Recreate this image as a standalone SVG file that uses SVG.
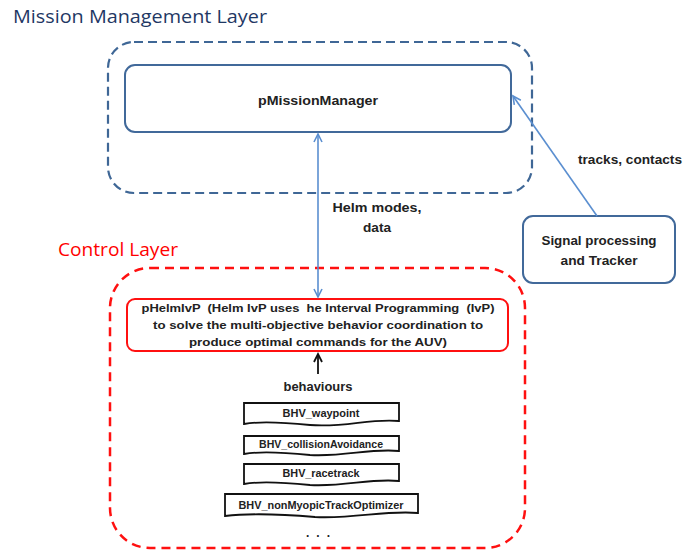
<svg xmlns="http://www.w3.org/2000/svg" width="696" height="550" viewBox="0 0 696 550">
<defs>
<style>
.t{font-family:"Liberation Sans",Arial,sans-serif;font-weight:bold;fill:#222;text-anchor:middle}
.title{font-family:"Open Sans","Liberation Sans",sans-serif;font-size:19px}
.bhv{fill:#fff;stroke:#111;stroke-width:1.8}
.bt{font-size:10px}
.conn{stroke:#5B8FD0;stroke-width:1.6;fill:none}
</style>
<marker id="ab" markerWidth="12" markerHeight="12" refX="9" refY="5" orient="auto-start-reverse" markerUnits="userSpaceOnUse">
<path d="M1,1 L9,5 L1,9" fill="none" stroke="#5B8FD0" stroke-width="1.6"/>
</marker>
<marker id="ak" markerWidth="12" markerHeight="12" refX="9" refY="5" orient="auto" markerUnits="userSpaceOnUse">
<path d="M1,1 L9,5 L1,9" fill="none" stroke="#111" stroke-width="1.8"/>
</marker>
</defs>
<rect width="696" height="550" fill="#fff"/>

<g id="mission-layer">
<text x="13" y="23" class="title" fill="#1F3864" textLength="254" lengthAdjust="spacingAndGlyphs">Mission Management Layer</text>
<rect x="108" y="42" width="424" height="151" rx="26" fill="none" stroke="#3F6796" stroke-width="2.2" stroke-dasharray="9,5"/>
</g>

<g id="pMissionManager">
<rect x="125" y="65" width="386" height="67" rx="10" fill="#fff" stroke="#41699A" stroke-width="2"/>
<text x="318" y="105" class="t" font-size="13.5" textLength="120" lengthAdjust="spacingAndGlyphs">pMissionManager</text>
</g>

<g id="control-layer">
<text x="58" y="256" class="title" fill="#FF0000" textLength="120" lengthAdjust="spacingAndGlyphs">Control Layer</text>
<rect x="110" y="268" width="415" height="280" rx="40" fill="none" stroke="#FF1010" stroke-width="2.5" stroke-dasharray="9,6"/>
</g>

<g id="signal-processing">
<rect x="523" y="216" width="152" height="67" rx="10" fill="#fff" stroke="#41699A" stroke-width="2"/>
<text x="599" y="245" class="t" font-size="12.5" textLength="115" lengthAdjust="spacingAndGlyphs">Signal processing</text>
<text x="599" y="265" class="t" font-size="12.5" textLength="77" lengthAdjust="spacingAndGlyphs">and Tracker</text>
</g>

<g id="pHelmIvP">
<rect x="127" y="299" width="381" height="52" rx="8" fill="#fff" stroke="#FF1010" stroke-width="2"/>
<text x="318" y="312" class="t" font-size="11.5" style="white-space:pre" textLength="353" lengthAdjust="spacingAndGlyphs">pHelmIvP  (Helm IvP uses  he Interval Programming  (IvP)</text>
<text x="318" y="329" class="t" font-size="11.5" textLength="330" lengthAdjust="spacingAndGlyphs">to solve the multi-objective behavior coordination to</text>
<text x="318" y="346" class="t" font-size="11.5" textLength="258" lengthAdjust="spacingAndGlyphs">produce optimal commands for the AUV)</text>
</g>

<g id="behaviours-label">
<text x="318" y="391" class="t" font-size="12" textLength="69" lengthAdjust="spacingAndGlyphs">behaviours</text>
</g>

<g id="bhv-waypoint">
<path class="bhv" d="M244,403 H399 V421 C370,418 345,428 310,425 C280,422 260,421 244,424 Z"/>
<text x="321" y="417" class="t bt" textLength="77" lengthAdjust="spacingAndGlyphs">BHV_waypoint</text>
</g>
<g id="bhv-collisionAvoidance">
<path class="bhv" d="M244,436 H399 V451 C370,448 345,457 310,455 C280,452 260,451 244,454 Z"/>
<text x="321" y="448" class="t bt" textLength="124" lengthAdjust="spacingAndGlyphs">BHV_collisionAvoidance</text>
</g>
<g id="bhv-racetrack">
<path class="bhv" d="M244,464 H399 V481 C370,478 345,487 310,485 C280,482 260,481 244,484 Z"/>
<text x="321" y="477" class="t bt" textLength="77" lengthAdjust="spacingAndGlyphs">BHV_racetrack</text>
</g>
<g id="bhv-nonMyopicTrackOptimizer">
<path class="bhv" d="M225,494 H418 V513 C385,510 355,519 315,517 C280,514 250,513 225,516 Z"/>
<text x="321" y="509" class="t bt" textLength="165" lengthAdjust="spacingAndGlyphs">BHV_nonMyopicTrackOptimizer</text>
</g>
<g id="ellipsis">
<text x="318" y="537" class="t" font-size="12" style="white-space:pre" textLength="24">. . .</text>
</g>

<g id="connectors">
<line class="conn" x1="318" y1="134" x2="318" y2="297" marker-start="url(#ab)" marker-end="url(#ab)"/>
<text x="377" y="212" class="t" font-size="12.5" textLength="89" lengthAdjust="spacingAndGlyphs">Helm modes,</text>
<text x="377" y="232" class="t" font-size="12.5" textLength="28" lengthAdjust="spacingAndGlyphs">data</text>
<line class="conn" x1="597" y1="216" x2="513" y2="96" marker-end="url(#ab)"/>
<text x="630" y="164" class="t" font-size="12.5" textLength="104" lengthAdjust="spacingAndGlyphs">tracks, contacts</text>
<line x1="318" y1="374" x2="318" y2="354" stroke="#111" stroke-width="1.8" marker-end="url(#ak)"/>
</g>
</svg>
